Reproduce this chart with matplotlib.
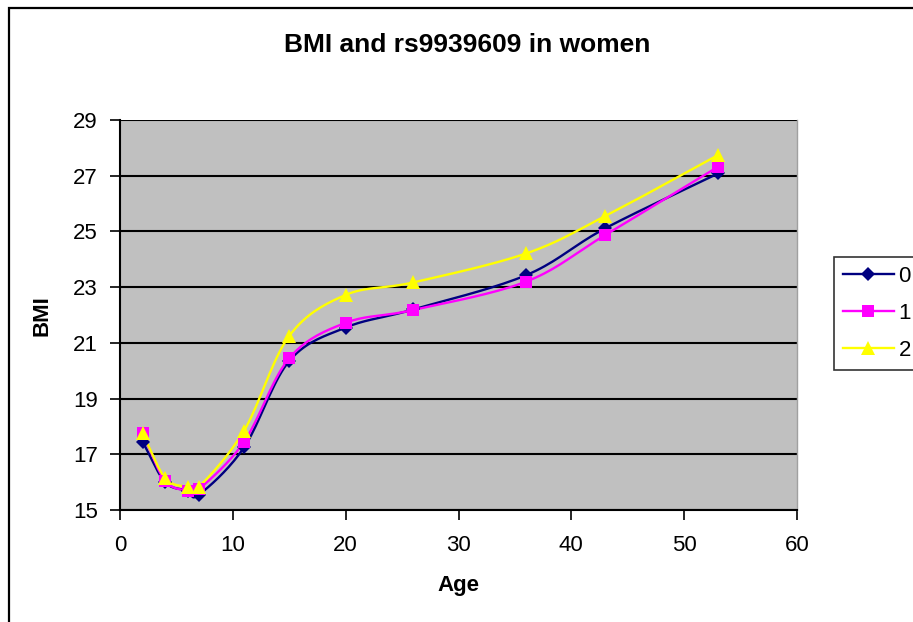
import numpy as np
import matplotlib
matplotlib.use("Agg")
import matplotlib.pyplot as plt
from matplotlib.patches import Rectangle

age = [2, 4, 6, 7, 11, 15, 20, 26, 36, 43, 53]
bmi_0 = [17.45, 16.0, 15.7, 15.55, 17.25, 20.35, 21.55, 22.2, 23.43, 25.11, 27.08]
bmi_1 = [17.75, 16.05, 15.7, 15.75, 17.45, 20.45, 21.72, 22.18, 23.2, 24.87, 27.32]
bmi_2 = [17.75, 16.15, 15.83, 15.83, 17.85, 21.25, 22.72, 23.17, 24.21, 25.55, 27.74]
labels = ["0", "1", "2"]
x_ticks = [0, 10, 20, 30, 40, 50, 60]
y_ticks = [15, 17, 19, 21, 23, 25, 27, 29]


def smooth(x, y, n=20):
    # Catmull-Rom style smoothing, similar to Excel "smoothed line"
    x = np.asarray(x, float)
    y = np.asarray(y, float)
    px = np.concatenate([[2 * x[0] - x[1]], x, [2 * x[-1] - x[-2]]])
    py = np.concatenate([[2 * y[0] - y[1]], y, [2 * y[-1] - y[-2]]])
    xs, ys = [], []
    t = np.linspace(0, 1, n)
    for i in range(1, len(px) - 2):
        p0, p1, p2, p3 = (np.array([px[j], py[j]]) for j in range(i - 1, i + 3))
        m1 = (p2 - p0) / 6
        m2 = (p3 - p1) / 6
        b0, b1, b2, b3 = p1, p1 + m1, p2 - m2, p2
        pts = ((1 - t) ** 3)[:, None] * b0 + (3 * (1 - t) ** 2 * t)[:, None] * b1 \
            + (3 * (1 - t) * t ** 2)[:, None] * b2 + (t ** 3)[:, None] * b3
        xs.extend(pts[:, 0])
        ys.extend(pts[:, 1])
    return xs, ys


plt.rcParams['font.family'] = ['Liberation Sans', 'DejaVu Sans']

W, H = 913, 622
fig = plt.figure(figsize=(W / 100, H / 100), dpi=100)
ax = fig.add_axes([120 / W, 1 - 510 / H, (797 - 120) / W, (510 - 120) / H])
ax.set_facecolor('#C0C0C0')

series = [
    (bmi_0, '#000080', 'D', 7.5),
    (bmi_1, '#FF00FF', 's', 8),
    (bmi_2, '#FFFF00', '^', 10),
]
handles = []
for (vals, color, marker, ms), lab in zip(series, labels):
    sx, sy = smooth(age, vals)
    ax.plot(sx, sy, color=color, lw=1.7, zorder=3)
    ax.plot(age, vals, linestyle='none', marker=marker, color=color,
            markersize=ms, markeredgewidth=0, zorder=4)
    h, = ax.plot([], [], color=color, lw=1.7, marker=marker, markersize=ms,
                 markeredgewidth=0, label=lab)
    handles.append(h)

ax.set_xlim(0, 60)
ax.set_ylim(15, 29)
ax.set_xticks(x_ticks)
ax.set_yticks(y_ticks)
ax.yaxis.grid(True, color='black', lw=1.5)
ax.set_axisbelow(True)
ax.tick_params(axis='both', direction='out', length=7, width=1.2,
               labelsize=16, colors='black')
ax.tick_params(axis='x', pad=11)
ax.tick_params(axis='y', pad=9)
ax.spines['top'].set_visible(False)
ax.spines['right'].set_color('#A0A0A0')
ax.spines['right'].set_linewidth(1)
ax.spines['left'].set_linewidth(1.5)
ax.spines['bottom'].set_linewidth(1.5)

fig.text(467 / W, 1 - 45 / H, 'BMI and rs9939609 in women', ha='center',
         va='center', fontsize=19, fontweight='bold')
fig.text(458 / W, 1 - 585 / H, 'Age', ha='center', va='center',
         fontsize=16, fontweight='bold')
fig.text(42 / W, 1 - 316 / H, 'BMI', ha='center', va='center',
         fontsize=16, fontweight='bold', rotation=90)

leg = fig.legend(handles=handles, loc='upper left',
                 bbox_to_anchor=(834 / W, 1 - 257 / H), fontsize=16,
                 frameon=True, fancybox=False, handlelength=2.3,
                 handletextpad=0.2, borderpad=0.4, labelspacing=0.72,
                 borderaxespad=0)
leg.get_frame().set_edgecolor('black')
leg.get_frame().set_linewidth(1.2)

fig.patches.append(Rectangle((9 / W, -0.05), 1.0, 1 - 8 / H + 0.05,
                             transform=fig.transFigure, fill=False,
                             edgecolor='black', lw=1.6))

fig.savefig('out.png', dpi=100)
